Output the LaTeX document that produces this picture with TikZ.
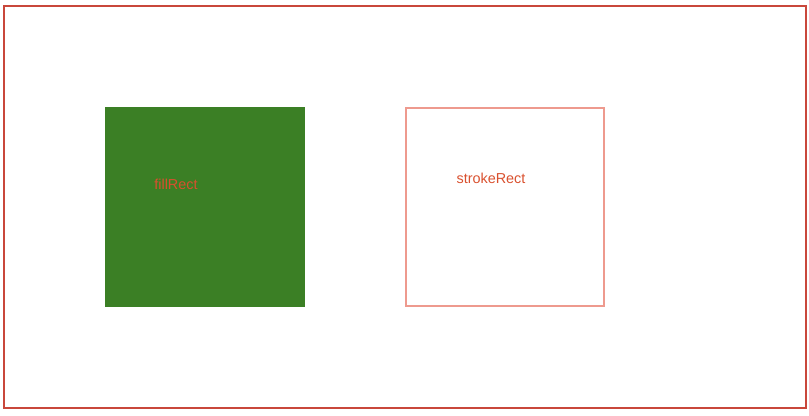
\documentclass[tikz,border=0pt]{standalone}
\usepackage{fontspec}
\setmainfont{Liberation Sans}
\usetikzlibrary{positioning}

\definecolor{framered}{HTML}{C9473B}
\definecolor{fillgreen}{HTML}{3B7F25}
\definecolor{labelred}{HTML}{D9502E}
\definecolor{strokepink}{HTML}{EE9A8E}

\begin{document}
\begin{tikzpicture}[
      x=0.75pt, y=-0.75pt,
      canvas/.style={draw=framered, line width=1.5pt},
      filledbox/.style={fill=fillgreen, draw=none, minimum width=150pt, minimum height=150pt, inner sep=0pt},
      strokedbox/.style={draw=strokepink, line width=1.5pt, minimum width=148.5pt, minimum height=148.5pt, inner sep=0pt},
      boxlabel/.style={text=labelred, font=\fontsize{10.8}{12}\selectfont, inner sep=0pt}
    ]
    \useasboundingbox (0,0) rectangle (809,416);
    \draw[canvas] (4,6) rectangle (805.5,408);

    \node[filledbox] (fillbox) at (205,207) {};
    \node[strokedbox] (strokebox) at (505,207) {};

    \node[boxlabel] (filllabel) at (176,184) {fillRect};
    \node[boxlabel] (strokelabel) at (491,178.5) {strokeRect};
  \end{tikzpicture}
\end{document}
